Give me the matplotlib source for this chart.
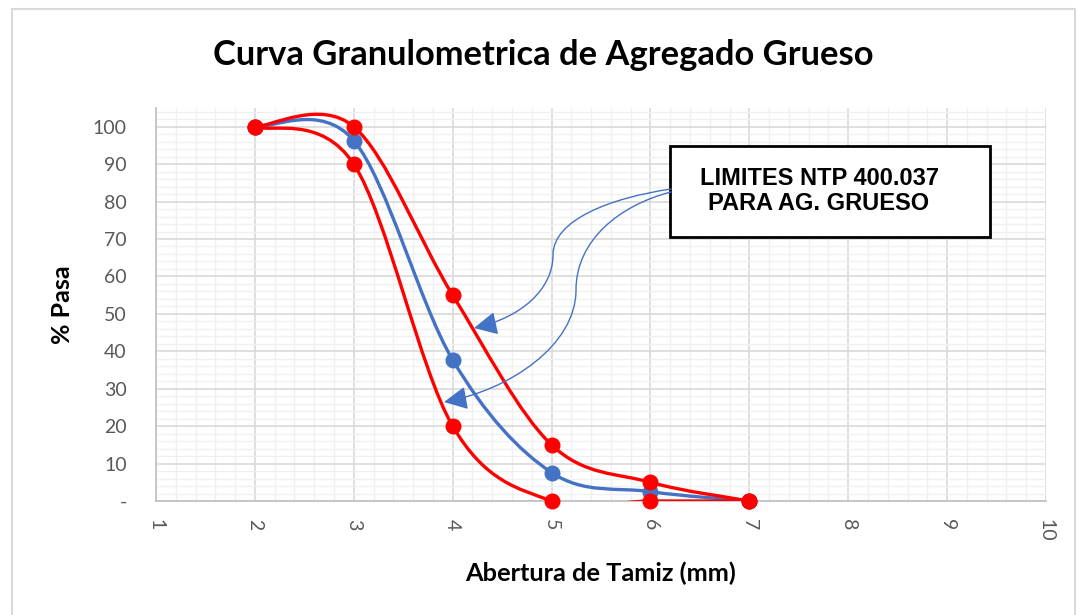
import numpy as np
import matplotlib.pyplot as plt
from matplotlib.path import Path
from matplotlib.patches import PathPatch, FancyArrowPatch, Rectangle

# datos de la curva granulometrica
abertura = [2, 3, 4, 5, 6, 7]
pasa = [100, 96.3, 37.7, 7.6, 2.5, 0]          # muestra
lim_sup = [100, 100, 55, 15, 5, 0]             # limite superior NTP 400.037
lim_inf = [100, 90, 20, 0, 0, 0]               # limite inferior NTP 400.037

AZUL = '#4472C4'
ROJO = '#FF0000'
W, H = 1079, 615


def px(x, y):
    # pixel (desde arriba-izquierda) -> fraccion de figura
    return (x / W, 1 - y / H)


def curva_suave(xs, ys):
    # curva suavizada tipo Excel (bezier cubica, tension 1/6)
    p = np.column_stack([xs, ys]).astype(float)
    n = len(p)
    verts = [p[0]]
    codes = [Path.MOVETO]
    for i in range(n - 1):
        p0 = p[i - 1] if i > 0 else p[i]
        p3 = p[i + 2] if i + 2 < n else p[i + 1]
        c1 = p[i] + (p[i + 1] - p0) / 6
        c2 = p[i + 1] - (p3 - p[i]) / 6
        verts += [c1, c2, p[i + 1]]
        codes += [Path.CURVE4] * 3
    return Path(verts, codes)


fig = plt.figure(figsize=(W / 100, H / 100), dpi=100)
ax = fig.add_axes([156 / W, 1 - 501 / H, (1046 - 156) / W, (501 - 108) / H])

for ys, col in [(pasa, AZUL), (lim_sup, ROJO), (lim_inf, ROJO)]:
    ax.add_patch(PathPatch(curva_suave(abertura, ys), fc='none', ec=col, lw=2.4, zorder=3))
    ax.plot(abertura, ys, 'o', color=col, ms=10.5, clip_on=False, zorder=4)

ax.set_xlim(1, 10)
ax.set_ylim(0, 105)
ax.set_xticks(range(1, 11))
ax.set_xticks(np.arange(1, 10.01, 0.2), minor=True)
ax.set_yticks(range(0, 101, 10))
ax.set_yticks(range(0, 105, 2), minor=True)
ax.set_yticklabels(['-'] + [str(v) for v in range(10, 101, 10)])
ax.set_xticklabels([str(v) for v in range(1, 11)], rotation=-90)

ax.grid(which='major', color='#d9d9d9', lw=1.2, zorder=0)
ax.grid(which='minor', color='#f0f0f0', lw=1.0, zorder=0)
ax.set_axisbelow(True)
for s in ['top', 'right']:
    ax.spines[s].set_visible(False)
for s in ['left', 'bottom']:
    ax.spines[s].set_color('#bfbfbf')
    ax.spines[s].set_linewidth(1.2)
ax.tick_params(which='both', length=0, colors='#595959', labelsize=14)
ax.tick_params(axis='y', pad=21)
ax.tick_params(axis='x', pad=13)
for lab in ax.get_xticklabels() + ax.get_yticklabels():
    lab.set_fontfamily('Lato')

ax.set_xlabel('Abertura de Tamiz (mm)', fontsize=18.3, fontweight='bold', family='Lato', va='center')
ax.set_ylabel('% Pasa', fontsize=18, fontweight='bold', family='Lato', va='center')
ax.xaxis.set_label_coords(0.5, (501 - 573) / 393)
ax.yaxis.set_label_coords((63 - 156) / 890, 0.5)

fig.text(543 / W, 1 - 55 / H, 'Curva Granulometrica de Agregado Grueso', ha='center', va='center',
         fontsize=24.8, fontweight='bold', family='Lato')

# recuadro con la leyenda de limites
x0, y0 = px(670, 237)
x1, y1 = px(990, 146)
fig.patches.append(Rectangle((x0, y0), x1 - x0, y1 - y0, transform=fig.transFigure,
                             fc='white', ec='black', lw=2, zorder=5))
fig.text(819 / W, 1 - 191 / H, 'LIMITES NTP 400.037\nPARA AG. GRUESO', ha='center', va='center',
         fontsize=17, fontweight='bold', family='Liberation Sans', linespacing=1.15, zorder=6)

# flechas curvas hacia los limites
flechas = [
    [(671, 189), (610, 198), (553, 220), (553, 255), (553, 290), (520, 318), (474, 328)],
    [(671, 192), (620, 205), (576, 240), (576, 290), (576, 345), (510, 390), (444, 402)],
]
for pts in flechas:
    verts = [px(*p) for p in pts]
    codes = [Path.MOVETO] + [Path.CURVE4] * 6
    fig.patches.append(FancyArrowPatch(path=Path(verts, codes), transform=fig.transFigure,
                                       arrowstyle='-|>,head_length=0.9,head_width=0.45',
                                       mutation_scale=16, color=AZUL, lw=1, zorder=6))

# borde del grafico
bx0, by0 = px(12, 620)
bx1, by1 = px(1075, 9)
fig.patches.append(Rectangle((bx0, by0), bx1 - bx0, by1 - by0, transform=fig.transFigure,
                             fc='none', ec='#d9d9d9', lw=1.5, zorder=0))

fig.savefig('out.png', dpi=100)
